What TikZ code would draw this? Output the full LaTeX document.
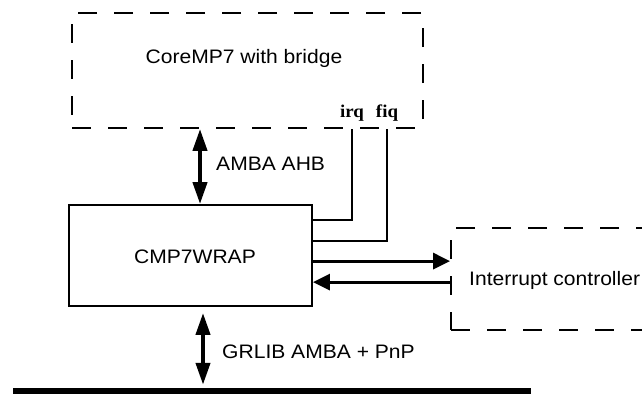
\documentclass[tikz,border=0pt]{standalone}
\usepackage{fontspec}
\setmainfont{Liberation Sans}[FakeStretch=1.08]
\newfontfamily\sigfont{Liberation Serif}[FakeStretch=1.05]
\usetikzlibrary{arrows.meta}
\tikzset{
  dashbox/.style={draw, dash pattern=on 19pt off 17pt, line width=1.8pt, inner sep=0pt},
  solidbox/.style={draw, line width=1.8pt, inner sep=0pt},
  txt/.style={inner sep=0pt, font=\fontsize{19.5pt}{23pt}\selectfont},
  sig/.style={inner sep=0pt, font=\fontsize{18pt}{21pt}\sigfont\bfseries},
  wire/.style={line width=1.8pt},
  dblarrow/.style={line width=4pt, {Triangle[length=22pt,width=14pt]}-{Triangle[length=22pt,width=14pt]}},
  sigarrow/.style={line width=3pt, -{Triangle[length=17pt,width=16pt]}},
}
\begin{document}
\begin{tikzpicture}[x=1pt,y=-1pt]
\clip (0,0) rectangle (642,394);
\fill[white] (0,0) rectangle (642,394);
% boxes
\node[dashbox, minimum width=351pt, minimum height=115pt] (core) at (247.5,70.5) {};
\node[txt] (coretxt) at (244,58) {CoreMP7 with bridge};
\node[solidbox, minimum width=243pt, minimum height=101pt] (wrap) at (190.5,255.5) {};
\node[txt] (wraptxt) at (195,257) {CMP7WRAP};
\node[dashbox, minimum width=249pt, minimum height=102pt] (intc) at (575.5,279) {};
\node[txt, anchor=base west] (intctxt) at (469,285) {Interrupt controller};
\node[fill=black, inner sep=0pt, minimum width=518pt, minimum height=6pt] (bus) at (272,391) {};
% signal labels
\node[sig, anchor=base] (irq) at (352,117) {irq};
\node[sig, anchor=base] (fiq) at (387,117) {fiq};
% irq / fiq wires
\draw[wire] ([yshift=-16pt]wrap.north east) -| (irq |- core.south);
\draw[wire] ([yshift=-37pt]wrap.north east) -| (fiq |- core.south);
% interrupt controller arrows
\coordinate (o1) at ([yshift=-57pt]wrap.north east);
\draw[sigarrow] (o1) -- (o1 -| intc.west);
\coordinate (i2) at ([yshift=-55pt]intc.north west);
\draw[sigarrow] (i2) -- (i2 -| wrap.east);
% AMBA AHB
\coordinate (a1) at ([xshift=-47.5pt]core.south);
\draw[dblarrow] (a1) -- (a1 |- wrap.north);
\node[txt, anchor=west] (ahb) at (216,164) {AMBA AHB};
% GRLIB bus
\coordinate (g1) at ([xshift=12.5pt,yshift=-6pt]wrap.south);
\draw[dblarrow, shorten >=3pt] (g1) -- (g1 |- bus.north);
\node[txt, anchor=west] (grlib) at (222,352) {GRLIB AMBA + PnP};
\end{tikzpicture}
\end{document}
